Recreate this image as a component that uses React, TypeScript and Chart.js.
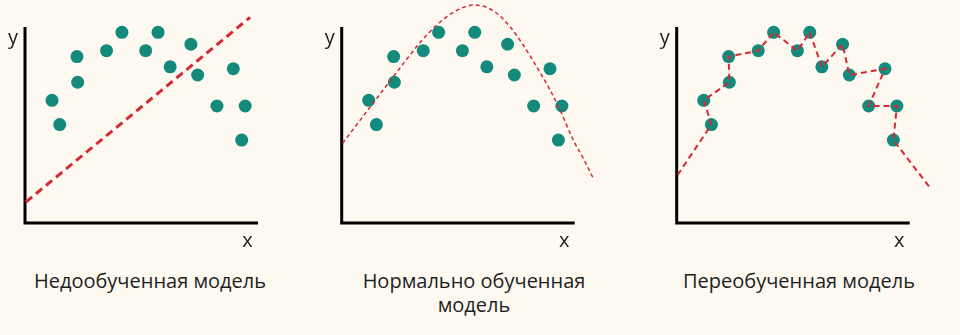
import React, { useEffect, useRef } from "react";
import { Chart, registerables } from "chart.js";

Chart.register(...registerables);

// Observations shared by all three panels (same sample, different fits)
const pointX = [1.16, 1.49, 2.23, 2.26, 3.5, 4.16, 5.18, 5.71, 6.23, 7.12, 7.41, 8.24, 8.94, 9.45, 9.3];
const pointY = [6.26, 5.02, 8.49, 7.18, 8.79, 9.73, 8.79, 9.73, 7.97, 9.12, 7.55, 5.97, 7.87, 5.97, 4.23];

// Underfit: straight line
const underfitX = [0.04, 9.66];
const underfitY = [1.07, 10.49];

// Good fit: smooth hump
const goodfitX = [0.04, 1.21, 2.24, 3.36, 4.08, 4.79, 5.69, 6.51, 7.22, 7.79, 8.37, 8.94, 9.37, 9.94, 10.37, 10.83];
const goodfitY = [4.07, 5.9, 7.5, 9.2, 10.1, 10.75, 11.12, 10.83, 10.02, 9.08, 7.97, 6.79, 5.77, 4.23, 3.3, 2.19];

// Overfit: passes through every observation in this order
const overfitOrder = [1, 0, 3, 2, 4, 5, 6, 7, 8, 9, 10, 12, 11, 13, 14];
const overfitStart = { x: 0.04, y: 2.45 };
const overfitEnd = { x: 10.84, y: 1.85 };

const titles = ["Недообученная модель", "Нормально обученная модель", "Переобученная модель"];
const axisNameX = "x";
const axisNameY = "y";

const BG = "#fdf8f0";
const DOT = "#138a7c";
const RED = "#d42a35";
const TEXT = "#1e1e1e";
const FONT = '"Open Sans", "Noto Sans", sans-serif';

const PX_PER_X = 23.3;
const PX_PER_Y = 19.6;
const CANVAS_W = 300;
const CANVAS_H = 260;
const ORIGIN_TOP = 223;

type Panel = {
  originX: number;
  left: number;
  titleCenter: number;
  titleWidth: number;
  fit: { x: number; y: number }[];
  lineWidth: number;
  dash: number[];
  smooth: boolean;
};

const zip = (xs: number[], ys: number[]) => xs.map((x, i) => ({ x, y: ys[i] }));
const observations = zip(pointX, pointY);

const panels: Panel[] = [
  {
    originX: 25,
    left: -5,
    titleCenter: 150,
    titleWidth: 300,
    fit: zip(underfitX, underfitY),
    lineWidth: 3,
    dash: [8, 5],
    smooth: false,
  },
  {
    originX: 341.7,
    left: 312,
    titleCenter: 474,
    titleWidth: 240,
    fit: zip(goodfitX, goodfitY),
    lineWidth: 1.5,
    dash: [4, 3],
    smooth: true,
  },
  {
    originX: 676.7,
    left: 647,
    titleCenter: 799,
    titleWidth: 300,
    fit: [overfitStart, ...overfitOrder.map((i) => observations[i]), overfitEnd],
    lineWidth: 2,
    dash: [6, 4],
    smooth: false,
  },
];

const axesPlugin = {
  id: "lAxes",
  beforeDatasetsDraw(chart: any) {
    const { ctx } = chart;
    const xs = chart.scales.x;
    const ys = chart.scales.y;
    const x0 = xs.getPixelForValue(0);
    const y0 = ys.getPixelForValue(0);
    const x1 = xs.getPixelForValue(10);
    const y1 = ys.getPixelForValue(10);
    ctx.save();
    ctx.strokeStyle = "#000";
    ctx.lineWidth = 3;
    ctx.lineJoin = "miter";
    ctx.lineCap = "butt";
    ctx.setLineDash([]);
    ctx.beginPath();
    ctx.moveTo(x0, y1);
    ctx.lineTo(x0, y0);
    ctx.lineTo(x1, y0);
    ctx.stroke();
    ctx.fillStyle = TEXT;
    ctx.font = `20px ${FONT}`;
    ctx.textAlign = "center";
    ctx.textBaseline = "alphabetic";
    ctx.fillText(axisNameY, x0 - 12, y1 + 17);
    ctx.fillText(axisNameX, x1 - 10.5, y0 + 23.7);
    ctx.restore();
  },
};

function FitPanel({ panel }: { panel: Panel }) {
  const ref = useRef<HTMLCanvasElement | null>(null);

  useEffect(() => {
    if (!ref.current) return;
    const xMin = -(panel.originX - panel.left) / PX_PER_X;
    const xMax = xMin + CANVAS_W / PX_PER_X;
    const yMax = ORIGIN_TOP / PX_PER_Y;
    const yMin = yMax - CANVAS_H / PX_PER_Y;

    const chart = new Chart(ref.current, {
      type: "scatter",
      data: {
        datasets: [
          {
            data: panel.fit,
            showLine: true,
            borderColor: RED,
            borderWidth: panel.lineWidth,
            borderDash: panel.dash,
            pointRadius: 0,
            tension: panel.smooth ? 0.4 : 0,
            cubicInterpolationMode: panel.smooth ? "monotone" : "default",
            fill: false,
            order: 0,
            clip: false,
          } as any,
          {
            data: observations,
            backgroundColor: DOT,
            borderWidth: 0,
            pointRadius: 6.5,
            pointHoverRadius: 6.5,
            order: 1,
            clip: false,
          } as any,
        ],
      },
      options: {
        animation: false,
        responsive: false,
        maintainAspectRatio: false,
        devicePixelRatio: 1,
        layout: { padding: 0, autoPadding: false },
        events: [],
        scales: {
          x: { type: "linear", display: false, min: xMin, max: xMax },
          y: { type: "linear", display: false, min: yMin, max: yMax },
        },
        plugins: {
          legend: { display: false },
          tooltip: { enabled: false },
          title: { display: false },
        },
      },
      plugins: [axesPlugin],
    });
    return () => chart.destroy();
  }, [panel]);

  return (
    <canvas
      ref={ref}
      width={CANVAS_W}
      height={CANVAS_H}
      style={{ position: "absolute", left: panel.left, top: 0, width: CANVAS_W, height: CANVAS_H }}
    />
  );
}

export default function App() {
  return (
    <div
      style={{
        position: "fixed",
        left: 0,
        top: 0,
        width: 960,
        height: 335,
        background: BG,
        overflow: "hidden",
      }}
    >
      {panels.map((p, i) => (
        <FitPanel key={i} panel={p} />
      ))}
      {panels.map((p, i) => (
        <div
          key={`t${i}`}
          style={{
            position: "absolute",
            left: p.titleCenter - p.titleWidth / 2,
            top: 269,
            width: p.titleWidth,
            textAlign: "center",
            fontFamily: FONT,
            fontSize: 20,
            lineHeight: "24px",
            color: TEXT,
          }}
        >
          {titles[i]}
        </div>
      ))}
    </div>
  );
}
